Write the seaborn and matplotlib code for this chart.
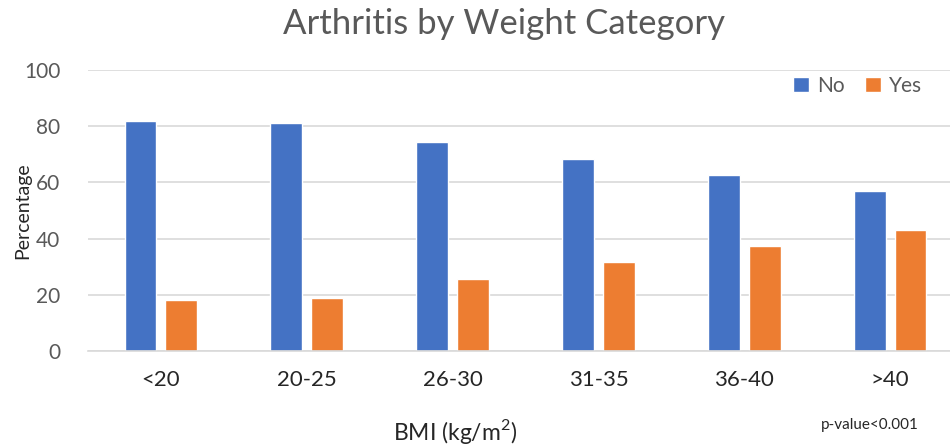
import pandas as pd
import matplotlib.pyplot as plt
import seaborn as sns

bmi_groups = ['<20', '20-25', '26-30', '31-35', '36-40', '>40']
pct_no = [82, 81.3, 74.5, 68.5, 62.5, 57]
pct_yes = [18, 18.7, 25.5, 31.5, 37.5, 43]

df = pd.DataFrame({
    'BMI': bmi_groups * 2,
    'Arthritis': ['No'] * len(bmi_groups) + ['Yes'] * len(bmi_groups),
    'Percentage': pct_no + pct_yes,
})

sns.set_style('white')
plt.rcParams['font.family'] = ['Lato', 'DejaVu Sans']
plt.rcParams['mathtext.fontset'] = 'custom'
plt.rcParams['mathtext.rm'] = 'Lato'
grey = '#595959'

fig = plt.figure(figsize=(9.5, 4.46), dpi=100)
ax = fig.add_axes([88 / 950, 95 / 446, 875 / 950, 281 / 446])

sns.barplot(data=df, x='BMI', y='Percentage', hue='Arthritis',
            palette={'No': '#4472C4', 'Yes': '#ED7D31'},
            width=0.56, gap=0.22, ax=ax, saturation=1)

ax.set_ylim(0, 100)
ax.set_xlim(-0.5, 5.5)
ax.set_yticks(range(0, 101, 20))
ax.yaxis.grid(True, color='#d9d9d9', linewidth=1.2)
ax.set_axisbelow(True)
for s in ['top', 'right', 'left']:
    ax.spines[s].set_visible(False)
ax.spines['bottom'].set_color('#d9d9d9')
ax.spines['bottom'].set_linewidth(1.2)
ax.tick_params(axis='y', length=0, pad=20, labelsize=15, labelcolor=grey)
ax.tick_params(axis='x', length=0, pad=14, labelsize=16, labelcolor='#262626')

ax.set_ylabel('Percentage', fontsize=14, color='#262626', labelpad=-5)
ax.set_xlabel('BMI (kg/m$^{2}$)', fontsize=16.5, color='#262626')
ax.xaxis.set_label_coords(0.42, -0.235)

fig.text(504 / 950, 1 - 24 / 446, 'Arthritis by Weight Category',
         ha='center', va='center', fontsize=25, color=grey)
fig.text(870 / 950, 1 - 425 / 446, 'p-value<0.001',
         ha='center', va='center', fontsize=11, color='#262626')

ax.legend(loc='upper right', bbox_to_anchor=(0.975, 1.045), ncol=2, frameon=False,
          fontsize=15, handlelength=0.75, handleheight=0.75, handletextpad=0.4,
          columnspacing=1.0, labelcolor=grey)

fig.savefig('out.png', dpi=100)
